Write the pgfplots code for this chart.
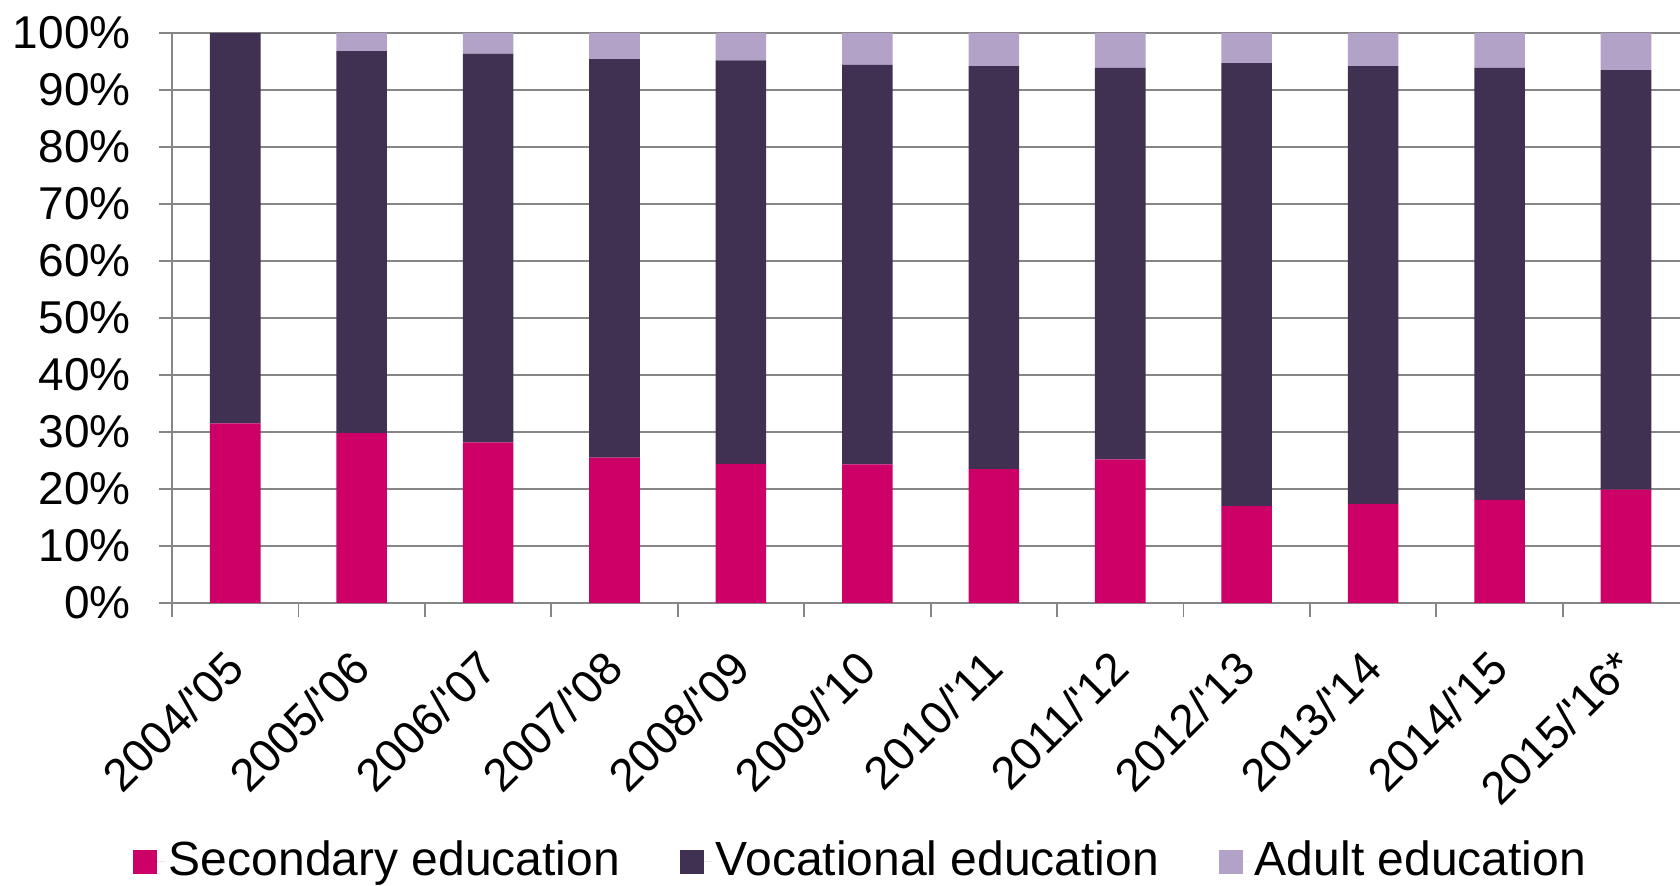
\documentclass[border=0pt]{standalone}
\usepackage{fontspec}
\setmainfont{Liberation Sans}
\usepackage{pgfplots}
\pgfplotsset{compat=1.18}
\definecolor{secc}{HTML}{CC0066}
\definecolor{vocc}{HTML}{403152}
\definecolor{adlc}{HTML}{B3A2C7}
\definecolor{gridc}{HTML}{868686}
\begin{document}
\fontsize{23}{27}\selectfont
\begin{tikzpicture}
\path[use as bounding box] (-86pt,-141.5pt) rectangle (754pt,301.5pt);
\begin{axis}[
  scale only axis,
  width=758.6pt, height=285pt,
  ybar stacked, bar width=0.4,
  xmin=-0.5, xmax=11.5, ymin=0, ymax=100,
  axis x line=bottom, axis y line=left,
  axis line style={gridc, line width=0.9pt, -},
  xtick={0,...,11},
  xticklabels={2004/\textquotesingle05,2005/\textquotesingle06,2006/\textquotesingle07,2007/\textquotesingle08,2008/\textquotesingle09,2009/\textquotesingle10,2010/\textquotesingle11,2011/\textquotesingle12,2012/\textquotesingle13,2013/\textquotesingle14,2014/\textquotesingle15,2015/\textquotesingle16*},
  minor xtick={-0.5,0.5,...,11.5},
  ytick={0,10,...,100},
  yticklabels={0\%,10\%,20\%,30\%,40\%,50\%,60\%,70\%,80\%,90\%,100\%},
  ymajorgrids,
  grid style={gridc, line width=0.9pt},
  tick align=outside,
  x tick style={draw=none},
  minor x tick style={draw=gridc, line width=0.9pt},
  minor tick length=7pt,
  y tick style={draw=gridc, line width=0.9pt},
  major tick length=6.5pt,
  ticklabel style={font=\fontsize{23}{27}\selectfont, text=black},
  yticklabel style={anchor=east, inner sep=0pt, xshift=-14pt},
  xticklabel style={inner sep=0pt, xshift=0pt, yshift=-21.5pt, rotate=45, anchor=east},
  legend style={at={(rel axis cs:0.4544,-0.4536)}, anchor=center, draw=none, fill=none,
    font=\fontsize{24}{28}\selectfont, legend columns=3,
    /tikz/every even column/.append style={column sep=28pt}},
  legend image code/.code={\fill[#1,draw=none] (0pt,-6pt) rectangle (12pt,6pt); \path (0pt,0pt) -- (16pt,0pt);},
  legend cell align=left,
]
\addplot[fill=secc, draw=none] coordinates {(0,31.5) (1,29.8) (2,28.2) (3,25.5) (4,24.4) (5,24.3) (6,23.5) (7,25.2) (8,17.0) (9,17.4) (10,18.1) (11,19.9)};
\addplot[fill=vocc, draw=none] coordinates {(0,68.5) (1,67.0) (2,68.2) (3,69.9) (4,70.8) (5,70.1) (6,70.7) (7,68.7) (8,77.7) (9,76.8) (10,75.8) (11,73.6)};
\addplot[fill=adlc, draw=none] coordinates {(0,0) (1,3.2) (2,3.6) (3,4.6) (4,4.8) (5,5.6) (6,5.8) (7,6.1) (8,5.3) (9,5.8) (10,6.1) (11,6.5)};
\legend{Secondary education, Vocational education, Adult education}
\end{axis}
\end{tikzpicture}
\end{document}
